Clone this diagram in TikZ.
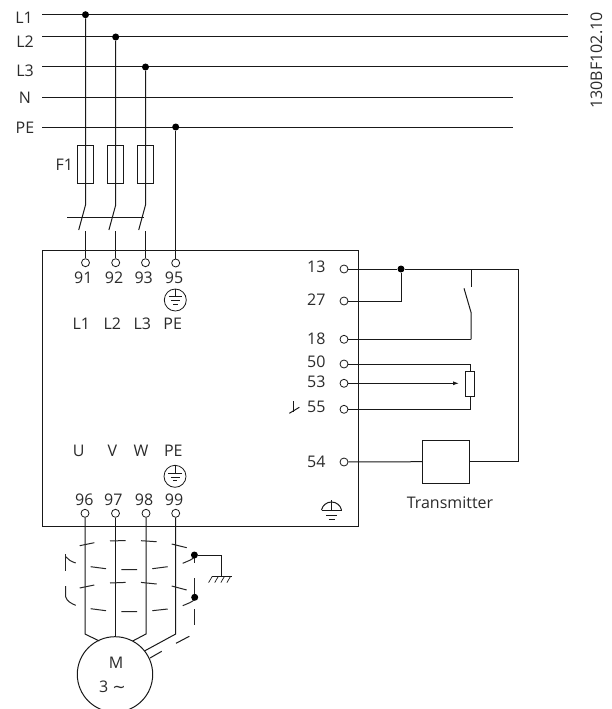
\documentclass[tikz,border=0pt]{standalone}
\usepackage{fontspec}
\setmainfont{Open Sans}
\newfontfamily\symfont{DejaVu Sans}
\usetikzlibrary{arrows.meta}
\definecolor{ink}{HTML}{2B2B2B}
\tikzset{
  wire/.style={line width=1pt,black!90},
  term/.style={circle,draw=black!90,line width=0.8pt,fill=white,inner sep=0pt,minimum size=8pt},
  junction/.style={circle,fill=black,inner sep=0pt,minimum size=7pt},
  lab/.style={text=ink,font=\fontsize{16}{16}\selectfont,inner sep=0pt},
  labr/.style={lab,anchor=east},
  fuse/.style={draw=black!90,line width=1pt,fill=none,inner sep=0pt,minimum width=15.5pt,minimum height=38pt},
  shield/.style={line width=1pt,black!85},
  pe/.pic={
    \draw[wire,line width=0.8pt] (0,0) circle (11);
    \draw[wire,line width=0.8pt] (0,-11) -- (0,-3.3) (-6.7,-3.3) -- (6.7,-3.3) (-4.5,0.7) -- (4.5,0.7) (-2.2,4) -- (2.2,4);
  }
}
\begin{document}
\begin{tikzpicture}[x=1pt,y=-1pt]
\path[use as bounding box] (0,0) rectangle (612,709);
\clip (0,0) rectangle (612,709);
\fill[white] (0,0) rectangle (612,709);

% mains
\coordinate (l1a) at (42.3,14.7); \coordinate (l1b) at (567.7,14.7);
\coordinate (l2a) at (42.3,37);   \coordinate (l2b) at (567.7,37);
\coordinate (l3a) at (42.3,67);   \coordinate (l3b) at (567.7,67);
\coordinate (na)  at (42.3,97);   \coordinate (nb)  at (513,97);
\coordinate (pa)  at (42.3,127);  \coordinate (pb)  at (513,127);
\draw[wire] (l1a) -- (l1b);
\draw[wire] (l2a) -- (l2b);
\draw[wire] (l3a) -- (l3b);
\draw[wire] (na) -- (nb);
\draw[wire] (pa) -- (pb);
\node[lab] (tl1) at (24,18) {L1};
\node[lab] (tl2) at (25,41.5) {L2};
\node[lab] (tl3) at (25,71) {L3};
\node[lab] (tn)  at (25,98) {N};
\node[lab] (tpe) at (25,128) {PE};
\node[lab,rotate=90] (code) at (596.5,60.5) {130BF102.10};

% main box
\draw[wire] (42.3,250) rectangle (358,526.3);

% terminals top
\node[term] (t91) at (85.5,262.7) {};
\node[term] (t92) at (115.7,262.7) {};
\node[term] (t93) at (145.5,262.7) {};
\node[term] (t95) at (175.7,263) {};
\node[junction] (j1) at (85.5,14.7) {};
\node[junction] (j2) at (115.7,37) {};
\node[junction] (j3) at (145.5,67) {};
\node[junction] (j4) at (175.7,127) {};
\coordinate (s1t) at (85.5,205);  \coordinate (s1b) at (78.7,230);  \coordinate (s1l) at (85.5,231);
\coordinate (s2t) at (115.7,205); \coordinate (s2b) at (108.9,230); \coordinate (s2l) at (115.7,231);
\coordinate (s3t) at (145.5,205); \coordinate (s3b) at (138.7,230); \coordinate (s3l) at (145.5,231);
\draw[wire] (j1) -- (s1t) -- (s1b);
\draw[wire] (j2) -- (s2t) -- (s2b);
\draw[wire] (j3) -- (s3t) -- (s3b);
\draw[wire] (s1l) -- (t91);
\draw[wire] (s2l) -- (t92);
\draw[wire] (s3l) -- (t93);
\draw[wire] (j4) -- (t95);
\coordinate (bar1) at (67,217.3); \coordinate (bar2) at (144,217.3);
\draw[wire] (bar1) -- (bar2);
\node[fuse] (f1) at (85.4,164.7) {};
\node[fuse] (f2) at (115.5,164.7) {};
\node[fuse] (f3) at (145.5,164.7) {};
\node[lab] (tf1) at (64.3,165) {F1};

\node[lab] at (83.3,278) {91};
\node[lab] at (114,278) {92};
\node[lab] at (143.7,278) {93};
\node[lab] at (174,278) {95};
\pic at (175.3,300) {pe};
\node[lab] at (81.3,324) {L1};
\node[lab] at (112.3,324) {L2};
\node[lab] at (142.3,324) {L3};
\node[lab] at (172.7,324) {PE};

% lower labels
\node[lab] at (78.7,450.7) {U};
\node[lab] at (112.3,450.7) {V};
\node[lab] at (141,450.7) {W};
\node[lab] at (173.3,450.7) {PE};
\pic at (175,476.3) {pe};
\node[lab] at (84.3,499.3) {96};
\node[lab] at (113.3,499.3) {97};
\node[lab] at (144,499.3) {98};
\node[lab] at (174,499.3) {99};

% right terminals
\node[term] (t13) at (344,269) {};
\node[term] (t27) at (344,301) {};
\node[term] (t18) at (344,339.3) {};
\node[term] (t50) at (344,364) {};
\node[term] (t53) at (344,383.3) {};
\node[term] (t55) at (344,409.3) {};
\node[term] (t54) at (344,462) {};
\node[labr] at (325.7,267) {13};
\node[labr] at (325.7,300) {27};
\node[labr] at (325.7,339) {18};
\node[labr] at (325.7,361.7) {50};
\node[labr] at (325.7,381.7) {53};
\node[labr] at (325.7,407) {55};
\node[labr] at (325.7,461.7) {54};

\node[junction] (j5) at (401,269) {};
\coordinate (c13) at (518.3,269);
\coordinate (sw1) at (471,269);  \coordinate (sw2) at (471,287.3);
\coordinate (sw3) at (464,288.3); \coordinate (sw4) at (471,312.3);
\coordinate (sw5) at (471,339.3);
\node[draw=black!90,line width=1pt,inner sep=0pt,minimum width=47pt,minimum height=43.3pt] (tx) at (446.2,461.7) {};
\node[lab] (ttx) at (450,503) {Transmitter};
\draw[wire] (t13) -- (j5) -- (c13) |- (tx.east);
\draw[wire] (t27) -| (j5);
\draw[wire] (sw1) -- (sw2);
\draw[wire] (sw3) -- (sw4) -- (sw5);
\draw[wire] (t18) -- (sw5);
\draw[wire] (t54) -- (tx.west);
\node[draw=black!90,line width=1pt,fill=white,inner sep=0pt,minimum width=9pt,minimum height=25pt] (rs) at (470.3,384.2) {};
\draw[wire] (t50) -| (rs.north);
\draw[wire] (t55) -| (rs.south);
\coordinate (wip) at (459,383.3);
\draw[wire,-{Latex[length=6pt,width=4pt]}] (t53) -- (wip);

% isolated tick near 55
\draw[wire] (293.7,401) -- (293.7,411.7);
\draw[wire] (289.3,413.3) -- (299.3,407.3);

% chassis earth
\draw[wire] (331.5,500) -- (331.5,510) (321.5,510) -- (341.5,510) (326,515) -- (337,515) (328.5,519.3) -- (334.5,519.3);
\draw[wire] (321.5,510) .. controls (322.5,505) and (327,502) .. (331.5,502) .. controls (336,502) and (340.5,505) .. (341.5,510);

% motor
\node[term] (t96) at (85,513.3) {};
\node[term] (t97) at (115.5,513.3) {};
\node[term] (t98) at (146,513.3) {};
\node[term] (t99) at (175.7,513.3) {};
\node[circle,draw=black!90,line width=1pt,inner sep=0pt,minimum size=75.4pt] (mot) at (115,674.4) {};
\node[lab] (tm) at (116,663) {M};
\node[lab] (t3) at (112.5,686.5) {3 {\symfont ∼}};
\draw[wire] (t96) -- (85,634) -- (99.3,641);
\draw[wire] (t97) -- (115.5,636.7);
\draw[wire] (t98) -- (146,634) -- (132.7,641);
\draw[wire] (t99) -- (175.7,634) -- (145,650.7);
\draw[wire] (189.3,636.3) -- (176,643.3);
\draw[wire] (161.7,651.3) -- (150,658);

% shield dashes
\draw[shield] (79.7,545.7) -- (94.3,542.7) (110,540.9) -- (125.7,540.6) (141,540.7) -- (156.7,541.7) (171.7,544) -- (186.7,547.7);
\draw[shield] (90.7,566.7) -- (106,568.7) (121.3,569.7) -- (137,569.7) (152.3,568.7) -- (167.7,566.7);
\draw[shield] (79.7,588) -- (94.3,585) (110,583) -- (125.7,582.4) (141,582.4) -- (156.7,584) (171.7,586) -- (186.7,590);
\draw[shield] (90.7,608.7) -- (106,610.7) (121.3,611.7) -- (137,611.7) (152.3,610.7) -- (167.7,609);
\draw[shield] (65.7,554) -- (65.7,570.7);
\draw[shield] (65.7,556.7) .. controls (68,559.5) and (71,561.5) .. (75.7,563);
\draw[shield] (65.7,586) -- (65.7,597) .. controls (67,601) and (71,603.5) .. (75.7,605.3);
\draw[shield] (182.7,563.3) -- (190,560.2) .. controls (192.5,559) and (194.3,558) .. (194.5,555);
\draw[shield] (194.5,555) -- (194.5,563);
\draw[shield] (194.7,578.3) -- (194.7,597.3);
\draw[shield] (182.7,605.7) -- (190,602.6) .. controls (192.5,601.4) and (194.5,600.4) .. (194.7,597.3);
\draw[shield] (194.7,609.3) -- (194.7,624.5);

% ground
\node[junction] (j6) at (194.4,555) {};
\node[junction] (j7) at (194.7,597.3) {};
\coordinate (g1) at (221.7,555); \coordinate (g2) at (221.7,576.3);
\draw[wire] (j6) -- (g1) -- (g2);
\draw[wire] (212.3,576.3) -- (231.7,576.3);
\foreach \x in {212.3,218.4,224.5,230.6} \draw[wire,line width=0.7pt] (\x,576.3) -- ++(-3.7,6.3);
\end{tikzpicture}
\end{document}
